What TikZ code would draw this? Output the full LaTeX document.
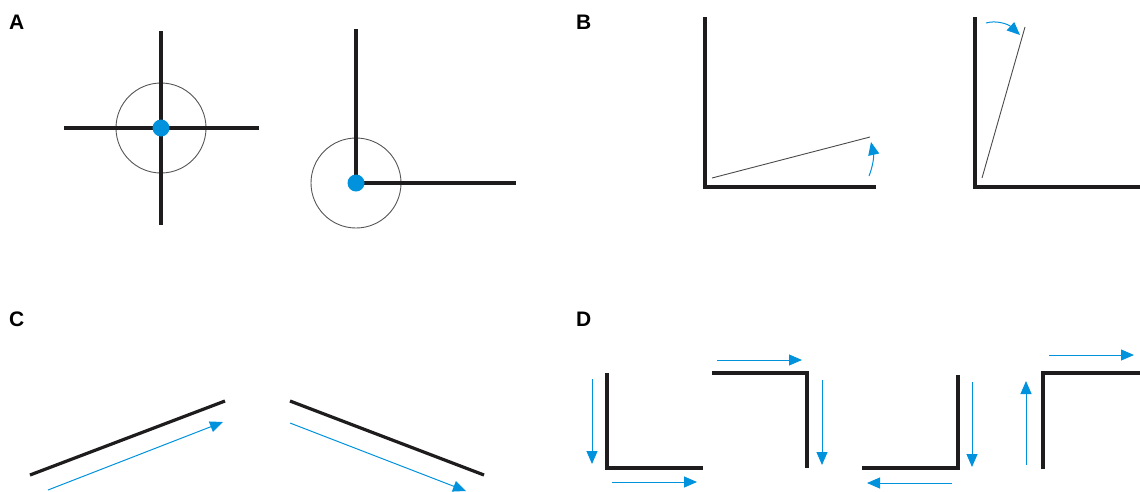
\documentclass[tikz,border=0pt]{standalone}
\usepackage{fontspec}
\setmainfont{Liberation Sans}
\usetikzlibrary{arrows.meta}
\definecolor{bl}{RGB}{0,146,221}
\definecolor{ink}{RGB}{30,28,29}
\begin{document}
\begin{tikzpicture}[x=1pt,y=-1pt,
  thickline/.style={draw=ink,line width=3.2pt},
  thinring/.style={draw=ink!75,line width=0.9pt},
  thinline/.style={draw=ink!80,line width=0.9pt},
  bluearrow/.style={draw=bl,line width=1pt,-{Triangle[length=13pt,width=11pt]}},
  dot/.style={fill=bl},
  lab/.style={font=\fontsize{21}{21}\selectfont\bfseries,anchor=base west,inner sep=0pt}]
\useasboundingbox (0,0) rectangle (1140,491);
% labels
\node[lab] (la) at (9,29) {A};
\node[lab] (lb) at (576,29) {B};
\node[lab] (lc) at (9,326) {C};
\node[lab] (ld) at (576,326) {D};
% A: cross
\draw[thinring] (161,128) circle (45);
\draw[thickline] (64,128) -- (259,128);
\draw[thickline] (161,31) -- (161,225);
\fill[dot] (161,128) circle (8.5);
% A: corner
\draw[thinring] (356,183) circle (45);
\draw[thickline] (356,29) -- (356,183) -- (516,183);
\fill[dot] (356,183) circle (8.5);
% B left
\draw[thickline] (705,17) -- (705,187) -- (876,187);
\draw[thinline] (712,178) -- (870,137);
\draw[bluearrow] (869,176) .. controls (873,166) and (874,156) .. (871,142);
% B right
\draw[thickline] (975,17) -- (975,187) -- (1140,187);
\draw[thinline] (982,178) -- (1025,27);
\draw[bluearrow] (986,23) .. controls (996,20) and (1008,24) .. (1020,35);
% C
\draw[thickline] (30,475) -- (225,401);
\draw[bluearrow] (48,490) -- (223,422);
\draw[thickline] (290,401) -- (484,475);
\draw[bluearrow] (290,423) -- (466,491);
% D shape 1
\draw[thickline] (607,373) -- (607,468) -- (703,468);
\draw[bluearrow] (592,379) -- (592,464);
\draw[bluearrow] (612,482) -- (697,482);
% D shape 2
\draw[thickline] (712,373) -- (807,373) -- (807,468);
\draw[bluearrow] (717,360) -- (802,360);
\draw[bluearrow] (822,380) -- (822,465);
% D shape 3
\draw[thickline] (958,375) -- (958,468) -- (862,468);
\draw[bluearrow] (972,382) -- (972,467);
\draw[bluearrow] (952,483) -- (867,483);
% D shape 4
\draw[thickline] (1043,469) -- (1043,373) -- (1140,373);
\draw[bluearrow] (1026,465) -- (1026,381);
\draw[bluearrow] (1049,355) -- (1134,355);
\end{tikzpicture}
\end{document}
